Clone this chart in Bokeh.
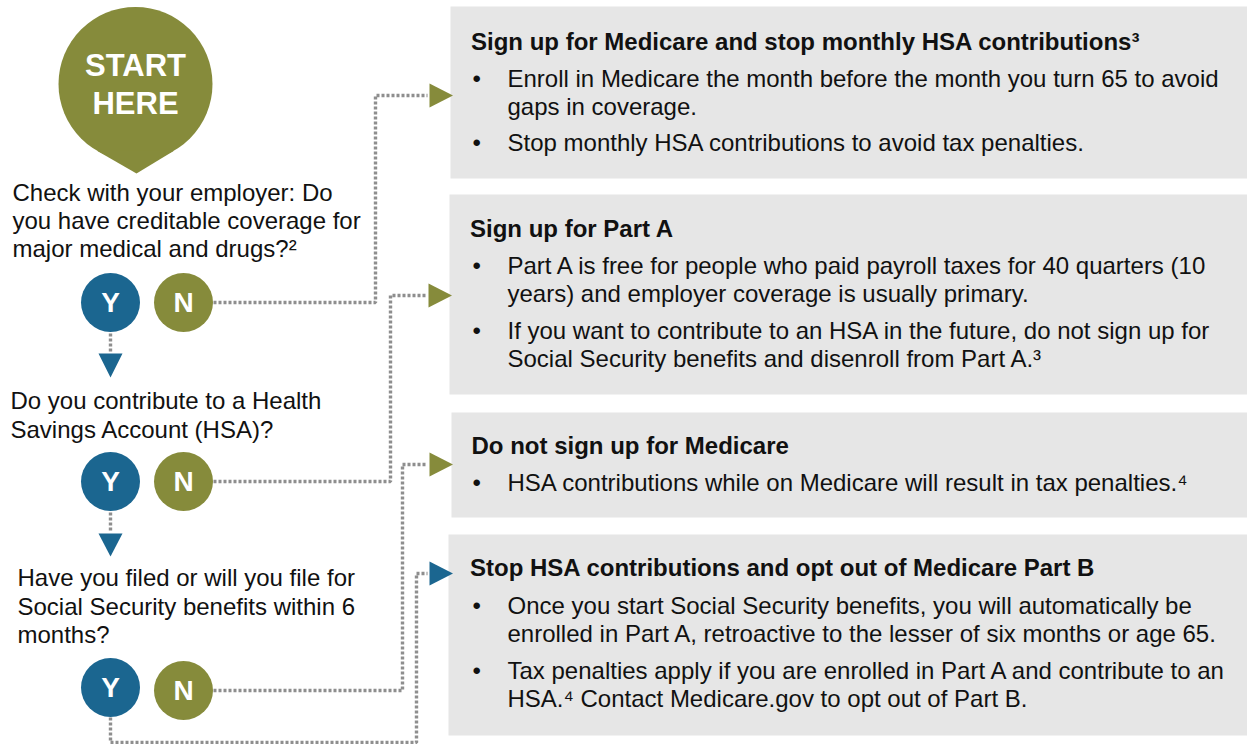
from bokeh.plotting import figure
from bokeh.models import Range1d
from bokeh.core.properties import value
from bokeh.embed import file_html
from bokeh.resources import INLINE

# ---------------- content ----------------
start_label = ["START", "HERE"]
questions = [
    ["Check with your employer: Do", "you have creditable coverage for", "major medical and drugs?\u00b2"],
    ["Do you contribute to a Health", "Savings Account (HSA)?"],
    ["Have you filed or will you file for", "Social Security benefits within 6", "months?"],
]
answer_yes = "Y"
answer_no = "N"
box_titles = [
    "Sign up for Medicare and stop monthly HSA contributions\u00b3",
    "Sign up for Part A",
    "Do not sign up for Medicare",
    "Stop HSA contributions and opt out of Medicare Part B",
]
box_bullets = [
    [["Enroll in Medicare the month before the month you turn 65 to avoid", "gaps in coverage."],
     ["Stop monthly HSA contributions to avoid tax penalties."]],
    [["Part A is free for people who paid payroll taxes for 40 quarters (10", "years) and employer coverage is usually primary."],
     ["If you want to contribute to an HSA in the future, do not sign up for", "Social Security benefits and disenroll from Part A.\u00b3"]],
    [["HSA contributions while on Medicare will result in tax penalties.\u2074"]],
    [["Once you start Social Security benefits, you will automatically be", "enrolled in Part A, retroactive to the lesser of six months or age 65."],
     ["Tax penalties apply if you are enrolled in Part A and contribute to an", "HSA.\u2074 Contact Medicare.gov to opt out of Part B."]],
]

# ---------------- layout (window pixel space, 1:1) ----------------
FIG_W, FIG_H = 1247, 744

OLIVE = "#868b3b"
BLUE = "#1b6690"
GRAY_BOX = "#e6e6e6"
DOT = "#8e8e8e"
INK = "#111111"
FONT = value("Liberation Sans")
CAP_MID = 0.358  # visual centre of capitals above the baseline, in em

start_center = (135, 83.5)
start_r = 77
start_tip = (136, 173)
start_baselines = [76, 114.5]

q_x = [12, 10, 17]
q_baselines = [[201, 229, 257], [409, 438], [586, 615, 643]]

yes_xy = [(110, 302), (110, 481), (110, 687)]
no_xy = [(183, 302), (183, 481), (183, 690)]
yn_r = 29.5

box_left = [450, 449, 451, 448]
box_top = [6, 194, 412, 534]
box_bottom = [178, 394, 517, 735]
box_right = 1247
title_x = [470.5, 469.5, 471, 469.5]
title_base = [49.5, 236.7, 453.3, 576]
line_base = [[[86.5, 114.5], [150.5]],
             [[273.3, 301.7], [338.3, 366.7]],
             [[490.7]],
             [[613.5, 642], [678.5, 707]]]
bullet_x = 472
body_x = 507

# connectors (dotted) and arrow heads
down_lines = [((110, 333), (110, 353)), ((110, 512), (110, 532))]
down_heads = [(110, 353, 377), (110, 533, 556)]
connectors = [
    [(213, 302), (375, 302), (375, 95), (427, 95)],
    [(213, 481), (390, 481), (390, 295), (426, 295)],
    [(213, 690), (402, 690), (402, 464), (427, 464)],
    [(110, 717), (110, 742), (416, 742), (416, 573), (427, 573)],
]
right_heads = [(429, 95, OLIVE), (428, 295, OLIVE), (429, 464, OLIVE), (429, 573, BLUE)]
head_len, head_half = 23.5, 12

# ---------------- figure ----------------
p = figure(width=FIG_W, height=FIG_H,
           x_range=Range1d(0, FIG_W), y_range=Range1d(FIG_H, 0),
           output_backend="svg", toolbar_location=None, x_axis_type=None, y_axis_type=None,
           min_border=0, min_border_left=0, min_border_right=0, min_border_top=0, min_border_bottom=0)
p.outline_line_color = None
p.grid.visible = False
p.background_fill_color = "white"
p.border_fill_color = "white"


def ytext(baseline, size):
    # text glyphs are placed by their visual centre
    return baseline - CAP_MID * size


# boxes
p.quad(left=box_left, right=[box_right] * 4, top=box_top, bottom=box_bottom,
       fill_color=GRAY_BOX, line_color=None)

# dotted connectors
xs = [[pt[0] for pt in c] for c in connectors] + [[a[0], b[0]] for a, b in down_lines]
ys = [[pt[1] for pt in c] for c in connectors] + [[a[1], b[1]] for a, b in down_lines]
p.multi_line(xs=xs, ys=ys, line_color=DOT, line_width=3.4, line_dash="3 2", line_cap="butt")

# arrow heads
hx, hy, hc = [], [], []
for x0, yc, col in right_heads:
    hx.append([x0, x0, x0 + head_len]); hy.append([yc - head_half, yc + head_half, yc]); hc.append(col)
for xc, y0, y1 in down_heads:
    hx.append([xc - head_half, xc + head_half, xc]); hy.append([y0, y0, y1]); hc.append(BLUE)
p.patches(xs=hx, ys=hy, fill_color=hc, line_color=None)

# start balloon
cx, cy = start_center
p.circle(x=[cx], y=[cy], radius=start_r, fill_color=OLIVE, line_color=None)
p.patches(xs=[[cx - 38.5, cx + 38.5, start_tip[0]]], ys=[[cy + 66.7, cy + 66.7, start_tip[1]]],
          fill_color=OLIVE, line_color=None)
p.text(x=[cx, cx], y=[ytext(b, 31) for b in start_baselines], text=start_label, text_font=FONT,
       text_font_style="bold", text_font_size="31px", text_color="white", text_align="center",
       text_baseline="alphabetic")

# Y / N circles
p.circle(x=[a[0] for a in yes_xy], y=[a[1] for a in yes_xy], radius=yn_r, fill_color=BLUE, line_color=None)
p.circle(x=[a[0] for a in no_xy], y=[a[1] for a in no_xy], radius=yn_r, fill_color=OLIVE, line_color=None)
p.text(x=[a[0] for a in yes_xy] + [a[0] for a in no_xy],
       y=[a[1] for a in yes_xy] + [a[1] for a in no_xy],
       text=[answer_yes] * 3 + [answer_no] * 3, text_font=FONT, text_font_style="bold",
       text_font_size="28px", text_color="white", text_align="center", text_baseline="alphabetic")

# question text
qx, qy, qt = [], [], []
for i, lines in enumerate(questions):
    for j, line in enumerate(lines):
        qx.append(q_x[i]); qy.append(ytext(q_baselines[i][j], 24)); qt.append(line)
p.text(x=qx, y=qy, text=qt, text_font=FONT, text_font_size="24px", text_color=INK,
       text_align="left", text_baseline="alphabetic")

# box titles
p.text(x=title_x, y=[ytext(b, 24) for b in title_base], text=box_titles, text_font=FONT,
       text_font_style="bold", text_font_size="24px", text_color=INK, text_align="left",
       text_baseline="alphabetic")

# box bullets
bx, by, bt, dx, dy = [], [], [], [], []
for i, bullets in enumerate(box_bullets):
    for j, lines in enumerate(bullets):
        dx.append(bullet_x); dy.append(ytext(line_base[i][j][0], 24))
        for k, line in enumerate(lines):
            bx.append(body_x); by.append(ytext(line_base[i][j][k], 24)); bt.append(line)
p.text(x=dx, y=dy, text=["\u2022"] * len(dx), text_font=FONT, text_font_size="24px", text_color=INK,
       text_align="left", text_baseline="alphabetic")
p.text(x=bx, y=by, text=bt, text_font=FONT, text_font_size="24px", text_color=INK,
       text_align="left", text_baseline="alphabetic")

open("out.html", "w").write(file_html(p, INLINE))
